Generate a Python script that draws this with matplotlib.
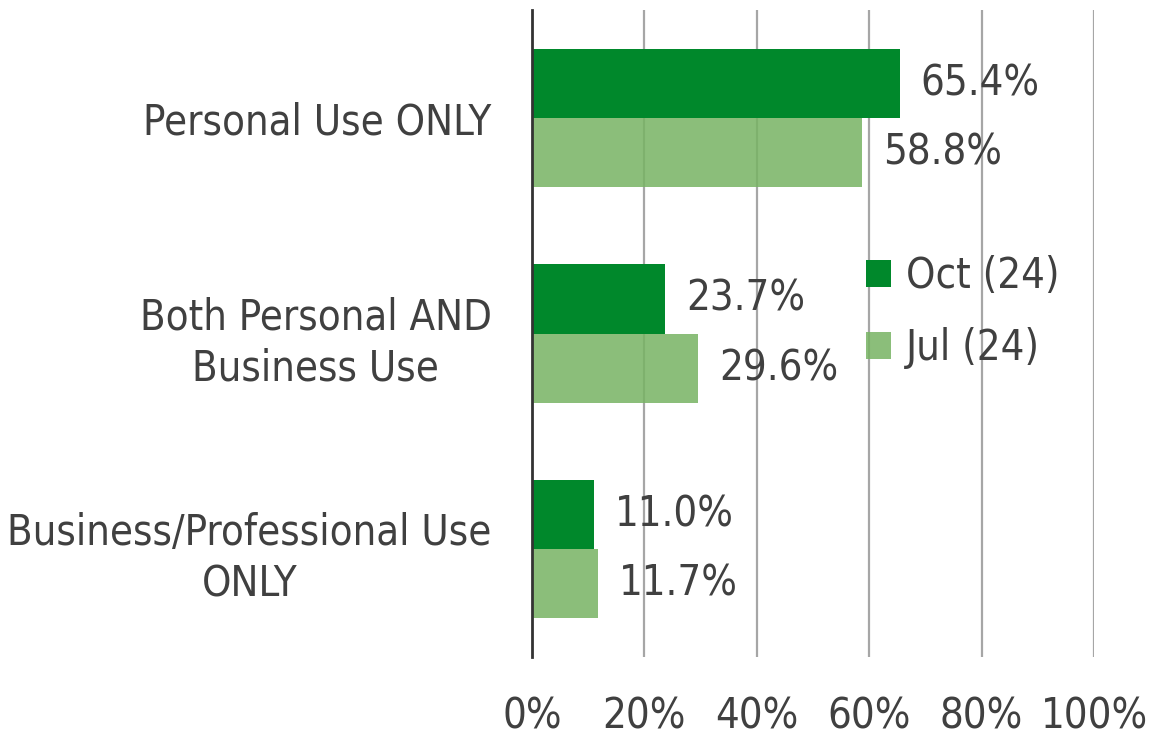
import matplotlib.pyplot as plt
import numpy as np

# ==========================================
# 1. DADOS
# ==========================================
categorias = ['Personal Use ONLY', 'Both Personal AND\nBusiness Use', 'Business/Professional Use\nONLY']
serie_oct = [65.4, 23.7, 11.0]
serie_jul = [58.8, 29.6, 11.7]
nomes_series = ['Oct (24)', 'Jul (24)']
ticks_x = [0, 20, 40, 60, 80, 100]
rotulos_x = ['0%', '20%', '40%', '60%', '80%', '100%']

COR_OCT = '#00882B'
COR_JUL = '#77B363'
COR_TEXTO = '#404040'
COR_GRADE = '#A6A6A6'

# ==========================================
# 2. ESTILO
# ==========================================
plt.rcParams['font.family'] = ['DejaVu Sans']
plt.rcParams['font.stretch'] = 'condensed'
plt.rcParams['font.size'] = 30

# ==========================================
# 3. GRÁFICO
# ==========================================
fig = plt.figure(figsize=(11.55, 7.38), dpi=100)
ax = fig.add_axes([0.4606, 0.1098, 0.4866, 0.8766])

y = np.arange(len(categorias))
altura = 0.32

barras_oct = ax.barh(y - altura / 2, serie_oct, height=altura, color=COR_OCT,
                     label=nomes_series[0], zorder=2)
barras_jul = ax.barh(y + altura / 2, serie_jul, height=altura, color=COR_JUL,
                     alpha=0.85, label=nomes_series[1], zorder=2)

# Rótulos de valor
for barras, valores in [(barras_oct, serie_oct), (barras_jul, serie_jul)]:
    for barra, v in zip(barras, valores):
        ax.annotate(f'{v:.1f}%', (v, barra.get_y() + barra.get_height() / 2),
                    xytext=(15, 0), textcoords='offset points',
                    ha='left', va='center', color=COR_TEXTO, zorder=3)

ax.set_xlim(0, 100)
ax.set_ylim(len(categorias) - 0.5, -0.5)
ax.set_xticks(ticks_x)
ax.set_xticklabels(rotulos_x, color=COR_TEXTO)
ax.set_yticks(y)
ax.set_yticklabels(categorias, color=COR_TEXTO)
for lbl in ax.get_yticklabels():
    lbl.set_multialignment('center')
    lbl.set_linespacing(1.3)

ax.tick_params(axis='x', length=0, pad=28)
ax.tick_params(axis='y', length=0, pad=29)

ax.grid(axis='x', color=COR_GRADE, linewidth=1.6, zorder=0)
ax.set_axisbelow(True)
for lado in ['top', 'right', 'bottom']:
    ax.spines[lado].set_visible(False)
ax.spines['left'].set_color('#333333')
ax.spines['left'].set_linewidth(2)
ax.spines['left'].set_zorder(4)

ax.legend(loc='upper left', bbox_to_anchor=(866 / 1155, 1 - 255 / 738),
          bbox_transform=fig.transFigure, frameon=False,
          handlelength=0.6, handleheight=0.6, handletextpad=0.35,
          labelspacing=0.72, borderpad=0, borderaxespad=0,
          labelcolor=COR_TEXTO)

plt.savefig('out.png', dpi=100)
plt.close()
